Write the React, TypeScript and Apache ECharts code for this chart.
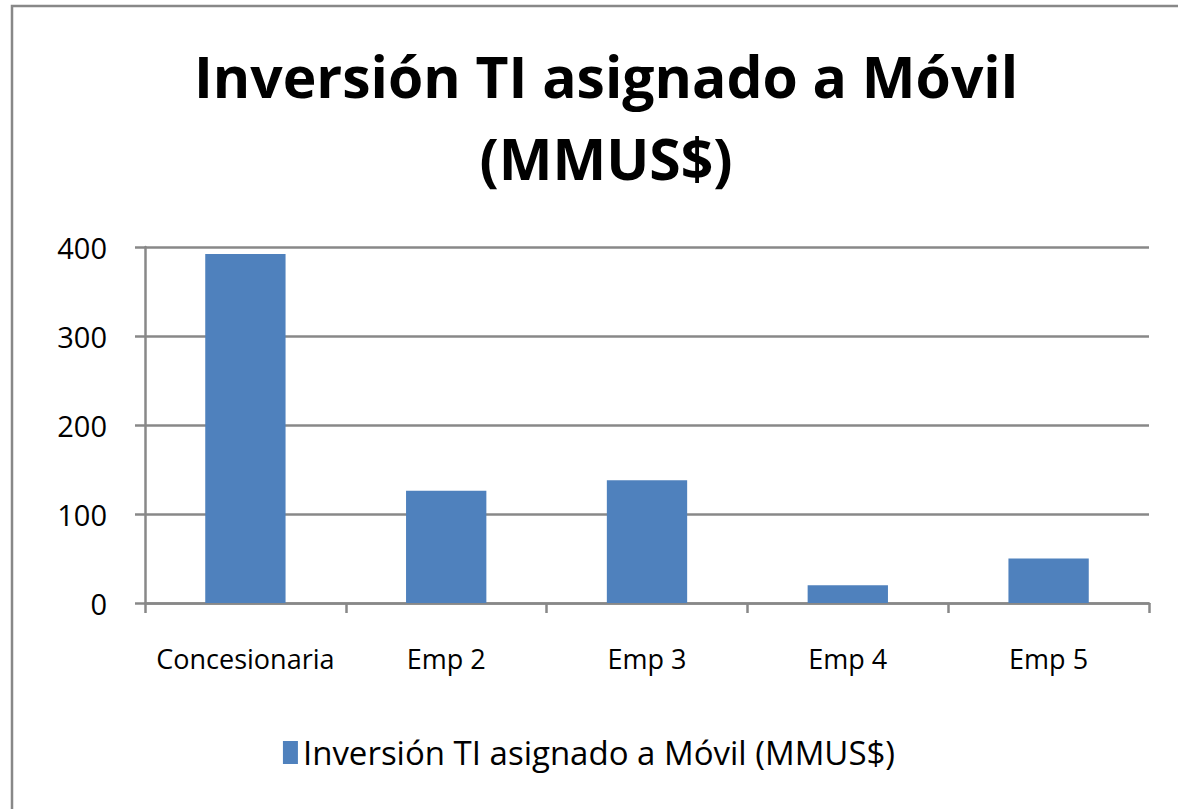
import React, { useEffect, useRef } from "react";
import * as echarts from "echarts";

const categories = ["Concesionaria", "Emp 2", "Emp 3", "Emp 4", "Emp 5"];
const seriesName = "Inversión TI asignado a Móvil (MMUS$)";
const values = [392, 126, 138, 20, 50];
const titleText = "Inversión TI asignado a Móvil\n(MMUS$)";

export default function App() {
  const ref = useRef<HTMLDivElement>(null);
  useEffect(() => {
    if (!ref.current) return;
    const chart = echarts.init(ref.current, null, { renderer: "svg" });
    const font = "'Open Sans', sans-serif";
    chart.setOption({
      animation: false,
      backgroundColor: "#ffffff",
      textStyle: { fontFamily: font },
      title: {
        text: titleText,
        left: 601,
        top: 30,
        textAlign: "center",
        textStyle: {
          fontFamily: font,
          fontWeight: "bold",
          fontSize: 57,
          lineHeight: 82,
          color: "#000",
        },
      },
      graphic: [
        {
          type: "rect",
          shape: { x: 12, y: 6, width: 1300, height: 1000 },
          style: { fill: "none", stroke: "#888888", lineWidth: 2.5 },
          silent: true,
        },
      ],
      legend: {
        bottom: 35,
        left: "center",
        itemWidth: 15,
        itemHeight: 23,
        itemGap: 8,
        icon: "rect",
        textStyle: { fontFamily: font, fontSize: 33, color: "#000" },
        data: [seriesName],
      },
      grid: { left: 145, right: 29, top: 247, bottom: 206 },
      xAxis: {
        type: "category",
        data: categories,
        axisLine: { lineStyle: { color: "#888888", width: 2.5 } },
        axisTick: { show: true, length: 10, lineStyle: { color: "#888888", width: 2.5 }, alignWithLabel: false },
        axisLabel: { color: "#000", fontSize: 27, margin: 42, interval: 0, fontFamily: font },
      },
      yAxis: {
        type: "value",
        min: 0,
        max: 400,
        interval: 100,
        axisLine: { show: true, lineStyle: { color: "#888888", width: 2.5 } },
        axisTick: { show: true, length: 10, lineStyle: { color: "#888888", width: 2.5 } },
        splitLine: { lineStyle: { color: "#888888", width: 2.5 } },
        axisLabel: { color: "#000", fontSize: 29, margin: 38, fontFamily: font },
      },
      series: [
        {
          name: seriesName,
          type: "bar",
          data: values,
          barWidth: "40%",
          itemStyle: { color: "#4F81BD" },
        },
      ],
    });
    return () => chart.dispose();
  }, []);
  return (
    <div
      ref={ref}
      style={{ position: "fixed", left: 0, top: 0, width: 1178, height: 809 }}
    />
  );
}
